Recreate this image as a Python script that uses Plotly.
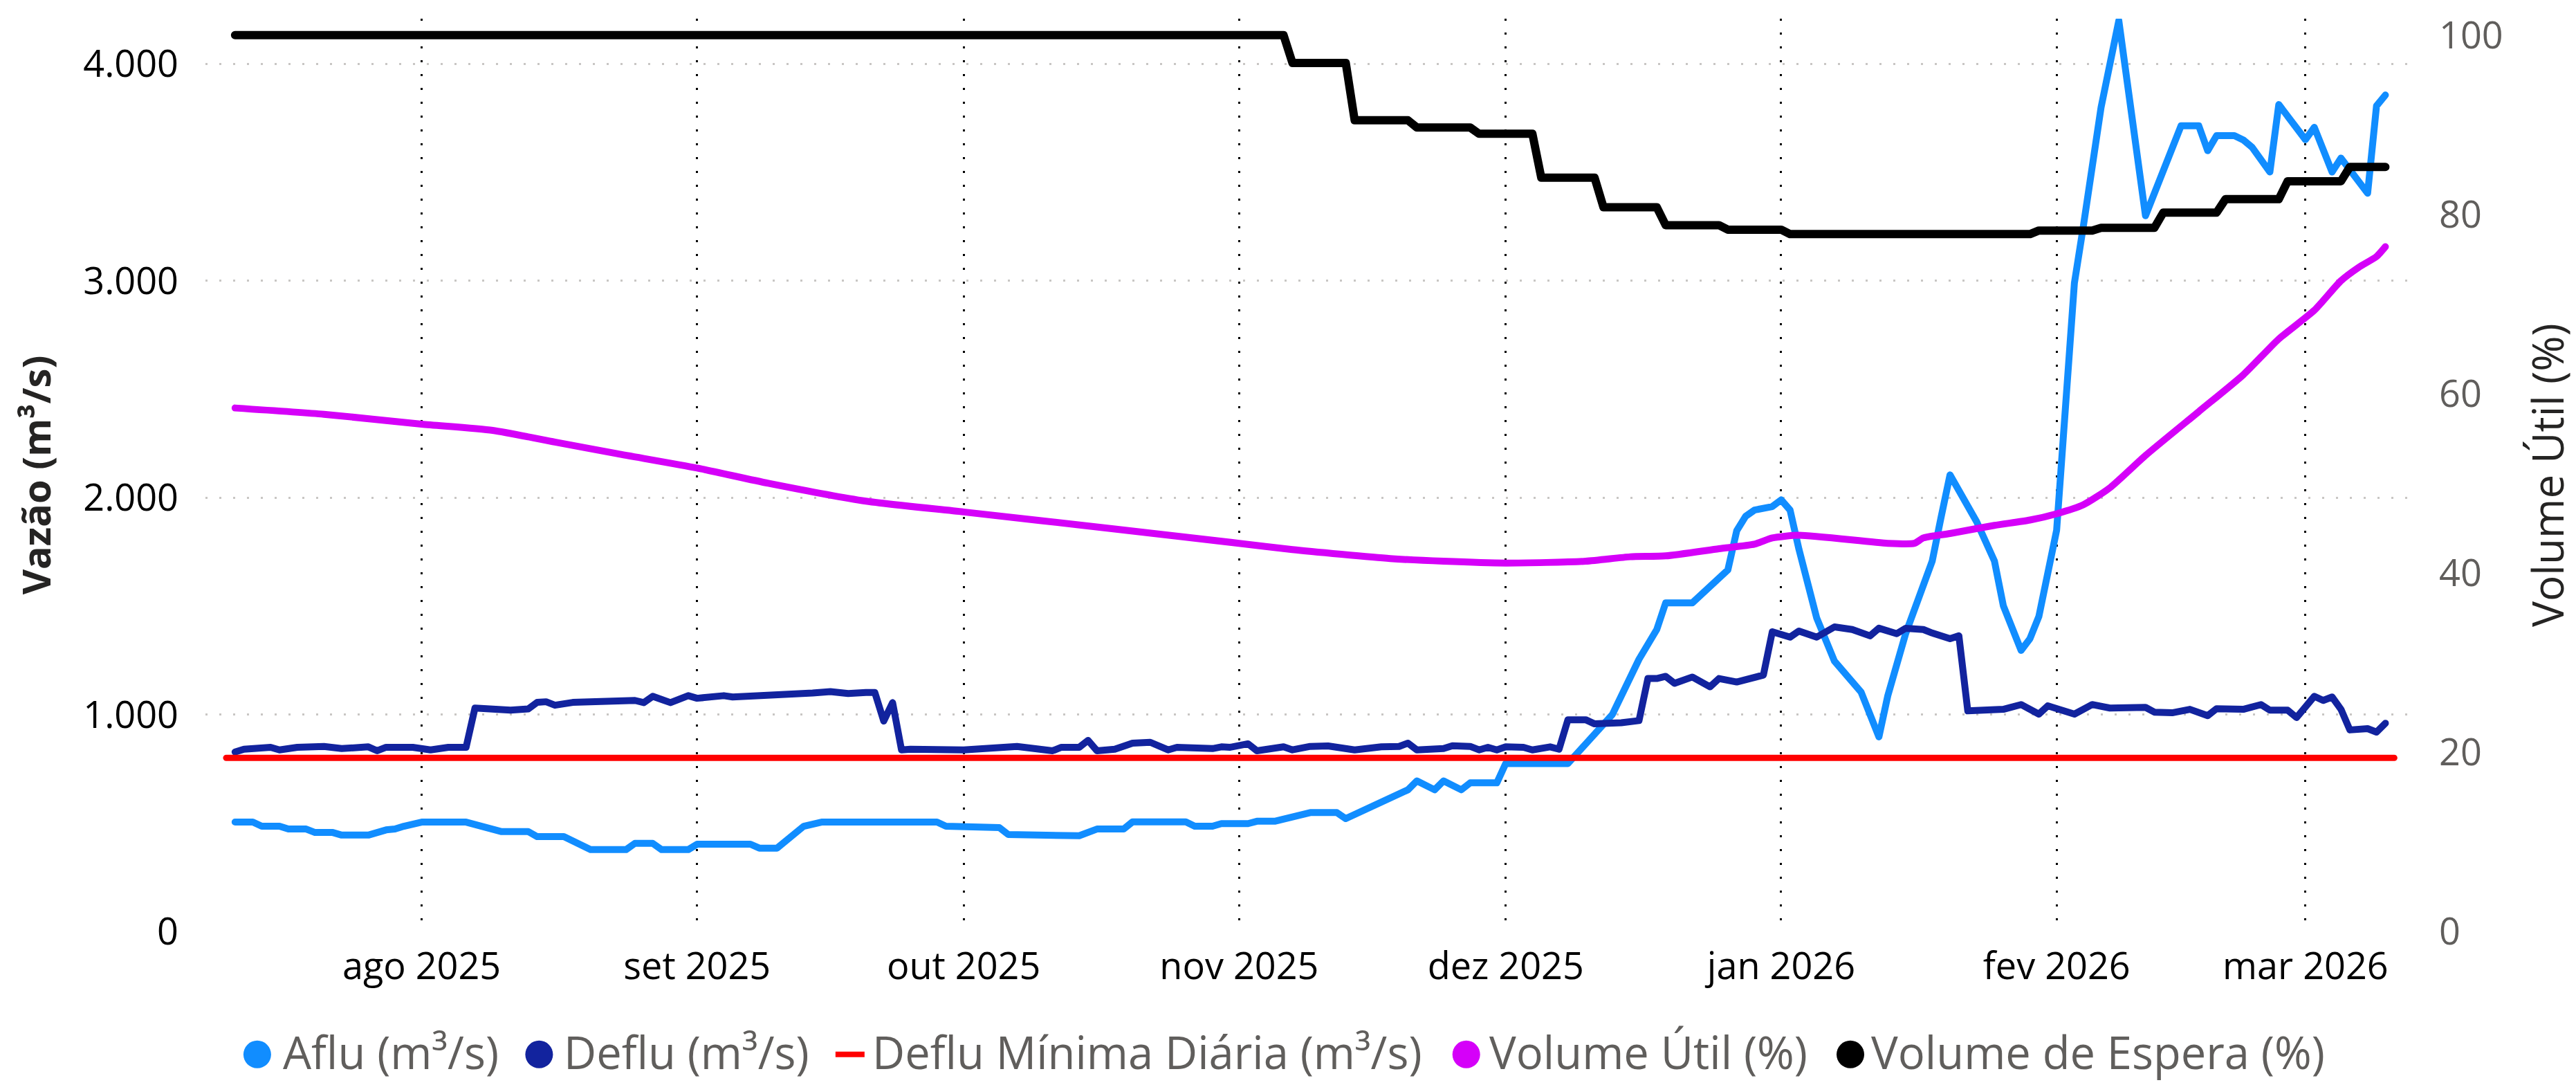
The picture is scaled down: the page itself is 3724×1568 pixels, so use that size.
import plotly.graph_objects as go

# ---------------- data ----------------
aflu_dates = ["2025-07-11","2025-07-13","2025-07-14","2025-07-16","2025-07-17","2025-07-19","2025-07-20","2025-07-22",
    "2025-07-23","2025-07-26","2025-07-28","2025-07-29","2025-07-30","2025-08-01","2025-08-06","2025-08-10","2025-08-13",
    "2025-08-14","2025-08-17","2025-08-20","2025-08-24","2025-08-25","2025-08-27","2025-08-28","2025-08-31","2025-09-01",
    "2025-09-07","2025-09-08","2025-09-10","2025-09-13","2025-09-15","2025-09-28","2025-09-29","2025-10-01","2025-10-02",
    "2025-10-05","2025-10-06","2025-10-08","2025-10-09","2025-10-14","2025-10-16","2025-10-19","2025-10-20","2025-10-26",
    "2025-10-27","2025-10-29","2025-10-30","2025-11-02","2025-11-03","2025-11-05","2025-11-09","2025-11-12","2025-11-13",
    "2025-11-20","2025-11-21","2025-11-23","2025-11-24","2025-11-26","2025-11-27","2025-11-30","2025-12-01","2025-12-08",
    "2025-12-13","2025-12-16","2025-12-18","2025-12-19","2025-12-22","2025-12-26","2025-12-27","2025-12-28","2025-12-29",
    "2025-12-31","2026-01-01","2026-01-02","2026-01-03","2026-01-05","2026-01-07","2026-01-10","2026-01-12","2026-01-13",
    "2026-01-15","2026-01-18","2026-01-19","2026-01-20","2026-01-23","2026-01-25","2026-01-26","2026-01-28","2026-01-29",
    "2026-01-30","2026-02-01","2026-02-03","2026-02-04","2026-02-06","2026-02-08","2026-02-11","2026-02-15","2026-02-17",
    "2026-02-18","2026-02-19","2026-02-21","2026-02-22","2026-02-23","2026-02-25","2026-02-26","2026-03-01","2026-03-02",
    "2026-03-04","2026-03-05","2026-03-08","2026-03-09","2026-03-10"]
aflu = [504,504,485,485,472,472,456,456,
    444,444,468,472,485,504,504,460,460,
    437,437,377,377,406,406,377,377,402,
    402,384,384,485,504,504,485,485,479,
    479,447,447,441,441,472,472,505,505,
    485,485,497,497,508,508,548,548,520,
    653,694,653,694,653,685,685,774,774,
    1000,1255,1392,1515,1515,1667,1848,1914,1943,
    1959,1990,1943,1762,1445,1246,1103,897,1087,
    1372,1708,1911,2105,1889,1708,1502,1296,1350,
    1452,1850,2990,3250,3800,4200,3300,3715,3715,
    3600,3670,3670,3650,3616,3502,3813,3651,3708,
    3502,3566,3404,3807,3857]

deflu_dates = ["2025-07-11","2025-07-12","2025-07-15","2025-07-16","2025-07-18","2025-07-21","2025-07-23","2025-07-25",
    "2025-07-26","2025-07-27","2025-07-28","2025-07-31","2025-08-02","2025-08-04","2025-08-06","2025-08-07","2025-08-09",
    "2025-08-11","2025-08-13","2025-08-14","2025-08-15","2025-08-16","2025-08-18","2025-08-20","2025-08-21","2025-08-25",
    "2025-08-26","2025-08-27","2025-08-29","2025-08-31","2025-09-01","2025-09-03","2025-09-04","2025-09-05","2025-09-08",
    "2025-09-13","2025-09-14","2025-09-16","2025-09-18","2025-09-20","2025-09-21","2025-09-22","2025-09-23","2025-09-24",
    "2025-09-25","2025-10-01","2025-10-04","2025-10-07","2025-10-11","2025-10-12","2025-10-14","2025-10-15","2025-10-16",
    "2025-10-18","2025-10-20","2025-10-22","2025-10-24","2025-10-25","2025-10-29","2025-10-30","2025-10-31","2025-11-02",
    "2025-11-03","2025-11-06","2025-11-07","2025-11-09","2025-11-11","2025-11-14","2025-11-17","2025-11-19","2025-11-20",
    "2025-11-21","2025-11-24","2025-11-25","2025-11-27","2025-11-28","2025-11-29","2025-11-30","2025-12-01","2025-12-03",
    "2025-12-04","2025-12-06","2025-12-07","2025-12-08","2025-12-10","2025-12-11","2025-12-14","2025-12-16","2025-12-17",
    "2025-12-18","2025-12-19","2025-12-20","2025-12-22","2025-12-24","2025-12-25","2025-12-27","2025-12-30","2025-12-31",
    "2026-01-02","2026-01-03","2026-01-05","2026-01-07","2026-01-09","2026-01-11","2026-01-12","2026-01-14","2026-01-15",
    "2026-01-17","2026-01-18","2026-01-20","2026-01-21","2026-01-22","2026-01-26","2026-01-28","2026-01-30","2026-01-31",
    "2026-02-03","2026-02-05","2026-02-07","2026-02-11","2026-02-12","2026-02-14","2026-02-16","2026-02-18","2026-02-19",
    "2026-02-22","2026-02-24","2026-02-25","2026-02-27","2026-02-28","2026-03-02","2026-03-03","2026-03-04","2026-03-05",
    "2026-03-06","2026-03-08","2026-03-09","2026-03-10"]
deflu = [827,840,849,837,849,853,843,843,
    851,833,849,849,837,849,849,1030,1026,
    1020,1026,1056,1059,1043,1056,1059,1065,1065,
    1055,1084,1055,1087,1075,1081,1087,1081,1087,
    1091,1099,1106,1097,1102,1102,970,1055,837,
    840,837,843,853,833,849,849,881,833,
    840,868,872,837,849,843,851,849,865,
    833,851,837,853,855,837,851,853,868,
    837,843,856,853,837,849,837,851,849,
    837,851,840,976,976,957,962,972,1166,
    1166,1176,1144,1173,1128,1166,1150,1182,1382,
    1357,1385,1357,1404,1392,1363,1398,1373,1398,
    1392,1376,1350,1363,1017,1024,1046,1002,1040,
    1002,1046,1030,1033,1011,1008,1024,995,1027,
    1024,1046,1020,1020,986,1084,1065,1081,1024,
    929,935,919,960]

deflu_min_dates = ["2025-07-10", "2026-03-11"]
deflu_min = [800, 800]

vol_util_dates = ["2025-07-11","2025-07-21","2025-08-01","2025-08-09","2025-08-16","2025-08-23","2025-09-01","2025-09-09",
    "2025-09-20","2025-10-01","2025-10-18","2025-11-01","2025-11-07","2025-11-18","2025-11-24","2025-12-01","2025-12-10",
    "2025-12-15","2025-12-19","2025-12-25","2025-12-29","2025-12-31","2026-01-03","2026-01-13","2026-01-16","2026-01-17",
    "2026-01-20","2026-01-25","2026-01-29","2026-02-01","2026-02-04","2026-02-07","2026-02-11","2026-02-17","2026-02-22",
    "2026-02-26","2026-03-02","2026-03-05","2026-03-07","2026-03-09","2026-03-10"]
vol_util = [58.4,57.7,56.6,55.9,54.6,53.3,51.7,50.0,
    48.0,46.8,44.9,43.3,42.6,41.6,41.3,41.1,41.3,
    41.8,41.9,42.7,43.2,43.9,44.2,43.3,43.3,43.9,
    44.4,45.3,45.9,46.6,47.6,49.5,53.1,58.0,62.1,
    66.1,69.3,72.6,74.1,75.3,76.4]

vol_espera_dates = ["2025-07-11","2025-11-06","2025-11-07","2025-11-13","2025-11-14","2025-11-20","2025-11-21","2025-11-27",
    "2025-11-28","2025-12-04","2025-12-05","2025-12-11","2025-12-12","2025-12-18","2025-12-19","2025-12-25","2025-12-26",
    "2026-01-01","2026-01-02","2026-01-29","2026-01-30","2026-02-05","2026-02-06","2026-02-12","2026-02-13","2026-02-19",
    "2026-02-20","2026-02-26","2026-02-27","2026-03-05","2026-03-06","2026-03-10"]
vol_espera = [100,100,96.9,96.9,90.5,90.5,89.7,89.7,
    89.0,89.0,84.1,84.1,80.8,80.8,78.8,78.8,78.3,
    78.3,77.8,77.8,78.2,78.2,78.5,78.5,80.2,80.2,
    81.7,81.7,83.7,83.7,85.3,85.3]

month_ticks = ["2025-08-01","2025-09-01","2025-10-01","2025-11-01","2025-12-01","2026-01-01","2026-02-01","2026-03-01"]
month_labels = ["ago 2025","set 2025","out 2025","nov 2025","dez 2025","jan 2026","fev 2026","mar 2026"]
left_ticks = [0, 1000, 2000, 3000, 4000]
left_labels = ["0", "1.000", "2.000", "3.000", "4.000"]
right_ticks = [0, 20, 40, 60, 80, 100]
right_labels = ["0", "20", "40", "60", "80", "100"]

legend_names = ["Aflu (m³/s)", "Deflu (m³/s)", "Deflu Mínima Diária (m³/s)", "Volume Útil (%)", "Volume de Espera (%)"]
colors = ["#118DFF", "#12239E", "#FF0000", "#D500F9", "#000000"]

# ---------------- layout constants ----------------
W, H = 3724, 1568
L, R, T, B = 297, 233, 18, 222
PW, PH = W - L - R, H - T - B
FONT = "Open Sans"

def px_x(px):
    return (px - L) / PW

def px_y(py):
    return (H - B - py) / PH

fig = go.Figure()
fig.add_trace(go.Scatter(x=aflu_dates, y=aflu, mode="lines", name=legend_names[0],
                         line=dict(color=colors[0], width=10), showlegend=False))
fig.add_trace(go.Scatter(x=deflu_dates, y=deflu, mode="lines", name=legend_names[1],
                         line=dict(color=colors[1], width=10), showlegend=False))
fig.add_trace(go.Scatter(x=deflu_min_dates, y=deflu_min, mode="lines", name=legend_names[2],
                         line=dict(color=colors[2], width=9), showlegend=False))
fig.add_trace(go.Scatter(x=vol_util_dates, y=vol_util, mode="lines", name=legend_names[3], yaxis="y2",
                         line=dict(color=colors[3], width=10, shape="spline", smoothing=0.6), showlegend=False))
fig.add_trace(go.Scatter(x=vol_espera_dates, y=vol_espera, mode="lines", name=legend_names[4], yaxis="y2",
                         line=dict(color=colors[4], width=12), showlegend=False))

fig.update_layout(
    width=W, height=H,
    margin=dict(l=L, r=R, t=T, b=B, pad=0),
    paper_bgcolor="white", plot_bgcolor="white",
    showlegend=False,
    font=dict(family=FONT, size=54, color="#000000"),
    xaxis=dict(
        type="date",
        range=["2025-07-07 16:00", "2026-03-13 00:00"],
        tickmode="array", tickvals=month_ticks, ticktext=month_labels,
        tickfont=dict(family=FONT, size=54, color="#000000"),
        showgrid=True, gridcolor="#000000", gridwidth=3, griddash="3px,17px",
        zeroline=False, showline=False, ticks="", ticklabelstandoff=14,
    ),
    yaxis=dict(
        range=[0, 4209],
        tickmode="array", tickvals=left_ticks, ticktext=left_labels,
        tickfont=dict(family=FONT, size=54, color="#000000"),
        showgrid=True, gridcolor="#C8C6C4", gridwidth=3, griddash="3px,17px",
        zeroline=False, showline=False, ticks="", ticklabelstandoff=38,
        title=dict(text="<b>Vazão (m³/s)</b>", font=dict(family=FONT, size=56, color="#252423"), standoff=28),
    ),
    yaxis2=dict(
        overlaying="y", side="right",
        range=[0, 101.84],
        tickmode="array", tickvals=right_ticks, ticktext=right_labels,
        tickfont=dict(family=FONT, size=54, color="#605E5C"),
        showgrid=False, zeroline=False, showline=False, ticks="", ticklabelstandoff=38,
        title=dict(text="Volume Útil (%)", font=dict(family=FONT, size=62, color="#252423"), standoff=50),
    ),
)

# ---------------- manual legend ----------------
legend_cy = 1525
legend_text_bottom = 1566
legend_marker_x = [372, 780, 1230, 2122, 2678]
legend_text_x = [408, 815, 1261, 2154, 2707]
shapes = []
annots = []
for i, name in enumerate(legend_names):
    if i == 2:
        shapes.append(dict(type="rect", xref="paper", yref="paper", xsizemode="pixel", ysizemode="pixel",
                           xanchor=px_x(legend_marker_x[i]), yanchor=px_y(legend_cy),
                           x0=-21, x1=21, y0=-4, y1=4, fillcolor=colors[i], line=dict(width=0)))
    else:
        shapes.append(dict(type="circle", xref="paper", yref="paper", xsizemode="pixel", ysizemode="pixel",
                           xanchor=px_x(legend_marker_x[i]), yanchor=px_y(legend_cy),
                           x0=-20, x1=20, y0=-20, y1=20, fillcolor=colors[i], line=dict(width=0)))
    annots.append(dict(text=name, xref="paper", yref="paper", x=px_x(legend_text_x[i]), y=px_y(legend_text_bottom),
                       xanchor="left", yanchor="bottom", showarrow=False, borderpad=0,
                       font=dict(family=FONT, size=65, color="#605E5C")))
fig.update_layout(shapes=shapes, annotations=annots)

post = ("document.body.style.margin='0';"
        "document.querySelectorAll('.scatterlayer path.js-line').forEach(function(p){"
        "p.style.strokeLinejoin='round';p.style.strokeLinecap='round';});")
fig.write_html("out.html", post_script=post, config={"displayModeBar": False})
